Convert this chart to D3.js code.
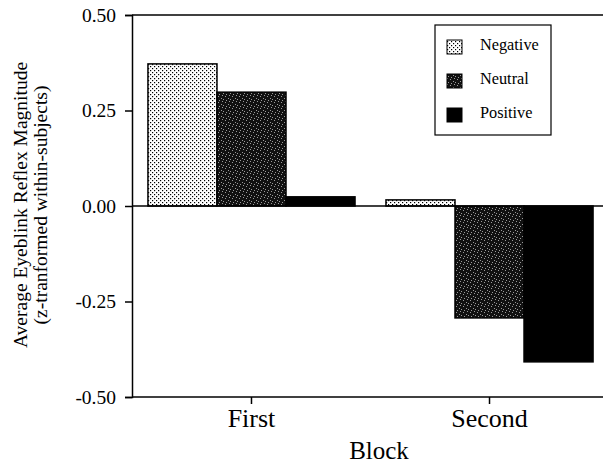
<!DOCTYPE html>
<html><head><meta charset="utf-8">
<script src="https://cdn.jsdelivr.net/npm/d3@7"></script>
<style>body{margin:0;background:#fff}svg{display:block}text{font-family:"Liberation Serif","Times New Roman",serif;fill:#000}</style>
</head><body><svg id="c" width="603" height="465"></svg>
<script>
const blocks = ["First", "Second"];
const series = ["Negative", "Neutral", "Positive"];
const negativeVals = [0.372, 0.016];
const neutralVals = [0.298, -0.293];
const positiveVals = [0.024, -0.408];
const yTicks = [-0.5, -0.25, 0, 0.25, 0.5];

(function(){
const values = {Negative: negativeVals, Neutral: neutralVals, Positive: positiveVals};
const svg = d3.select("#c");
const defs = svg.append("defs");
const p1 = defs.append("pattern").attr("id","pNeg").attr("patternUnits","userSpaceOnUse").attr("width",4).attr("height",4);
p1.append("rect").attr("width",4).attr("height",4).attr("fill","#fff");
p1.append("rect").attr("x",0).attr("y",0).attr("width",1.2).attr("height",1.2).attr("fill","#000");
p1.append("rect").attr("x",2).attr("y",2).attr("width",1.2).attr("height",1.2).attr("fill","#000");
const p2 = defs.append("pattern").attr("id","pNeu").attr("patternUnits","userSpaceOnUse").attr("width",7).attr("height",6);
p2.append("rect").attr("width",7).attr("height",6).attr("fill","#111");
[[1,0],[4,2],[2,4],[6,3],[5,5]].forEach(([x,y])=>p2.append("rect").attr("x",x).attr("y",y).attr("width",0.9).attr("height",0.9).attr("fill","#bbb"));
const fills = {Negative:"url(#pNeg)", Neutral:"url(#pNeu)", Positive:"#000"};

const L = 132, R = 603, T = 15, B = 397;
const y = d3.scaleLinear().domain([-0.5, 0.5]).range([B, T]);
const x0 = d3.scaleBand().domain(blocks).range([L, 609]).paddingInner(0.13).paddingOuter(0.067);
const x1 = d3.scaleBand().domain(series).range([0, x0.bandwidth()]);

blocks.forEach((b, i) => {
  series.forEach(s => {
    const v = values[s][i];
    svg.append("rect")
      .attr("x", x0(b) + x1(s))
      .attr("width", x1.bandwidth())
      .attr("y", y(Math.max(0, v)))
      .attr("height", Math.abs(y(v) - y(0)))
      .attr("fill", fills[s]).attr("stroke", "#000").attr("stroke-width", 1.5);
  });
});

svg.append("line").attr("x1", L).attr("x2", R).attr("y1", y(0)).attr("y2", y(0)).attr("stroke","#000").attr("stroke-width",1.5);
svg.append("line").attr("x1", L).attr("x2", R).attr("y1", T).attr("y2", T).attr("stroke","#000").attr("stroke-width",1.5);

const ya = svg.append("g").attr("transform", `translate(${L},0)`)
  .call(d3.axisLeft(y).tickValues(yTicks).tickFormat(d => d.toFixed(2)).tickSize(7).tickPadding(9));
ya.select(".domain").attr("stroke-width",1.5);
ya.selectAll(".tick line").attr("stroke-width",1.5);
ya.selectAll("text").style("font-size","19.5px").style("font-family","Liberation Serif");

const xa = svg.append("g").attr("transform", `translate(0,${B})`)
  .call(d3.axisBottom(x0).tickSize(7).tickSizeOuter(0));
xa.select(".domain").attr("stroke-width",1.5).attr("d", `M${L},0H${R}`);
xa.selectAll(".tick line").attr("stroke-width",1.5);
xa.selectAll("text").attr("y", 30).attr("dy", 0).style("font-size","26px").style("font-family","Liberation Serif");

svg.append("text").attr("x", 379).attr("y", 459).attr("text-anchor","middle").style("font-size","25px").text("Block");
const yl = svg.append("text").attr("transform","translate(27,205) rotate(-90)").attr("text-anchor","middle").style("font-size","19.5px");
yl.append("tspan").attr("x",0).attr("dy",0).text("Average Eyeblink Reflex Magnitude");
yl.append("tspan").attr("x",0).attr("dy",20).text("(z-tranformed within-subjects)");

const lg = svg.append("g").attr("transform","translate(435,25)");
lg.append("rect").attr("width",116).attr("height",110).attr("fill","#fff").attr("stroke","#000").attr("stroke-width",1.2);
series.forEach((s, i) => {
  const gy = 22 + i * 34;
  lg.append("rect").attr("x",12).attr("y",gy - 7).attr("width",15).attr("height",14).attr("fill",fills[s]).attr("stroke","#000").attr("stroke-width",1);
  lg.append("text").attr("x",45).attr("y",gy + 3).style("font-size","16.3px").text(s);
});
})();
</script></body></html>
